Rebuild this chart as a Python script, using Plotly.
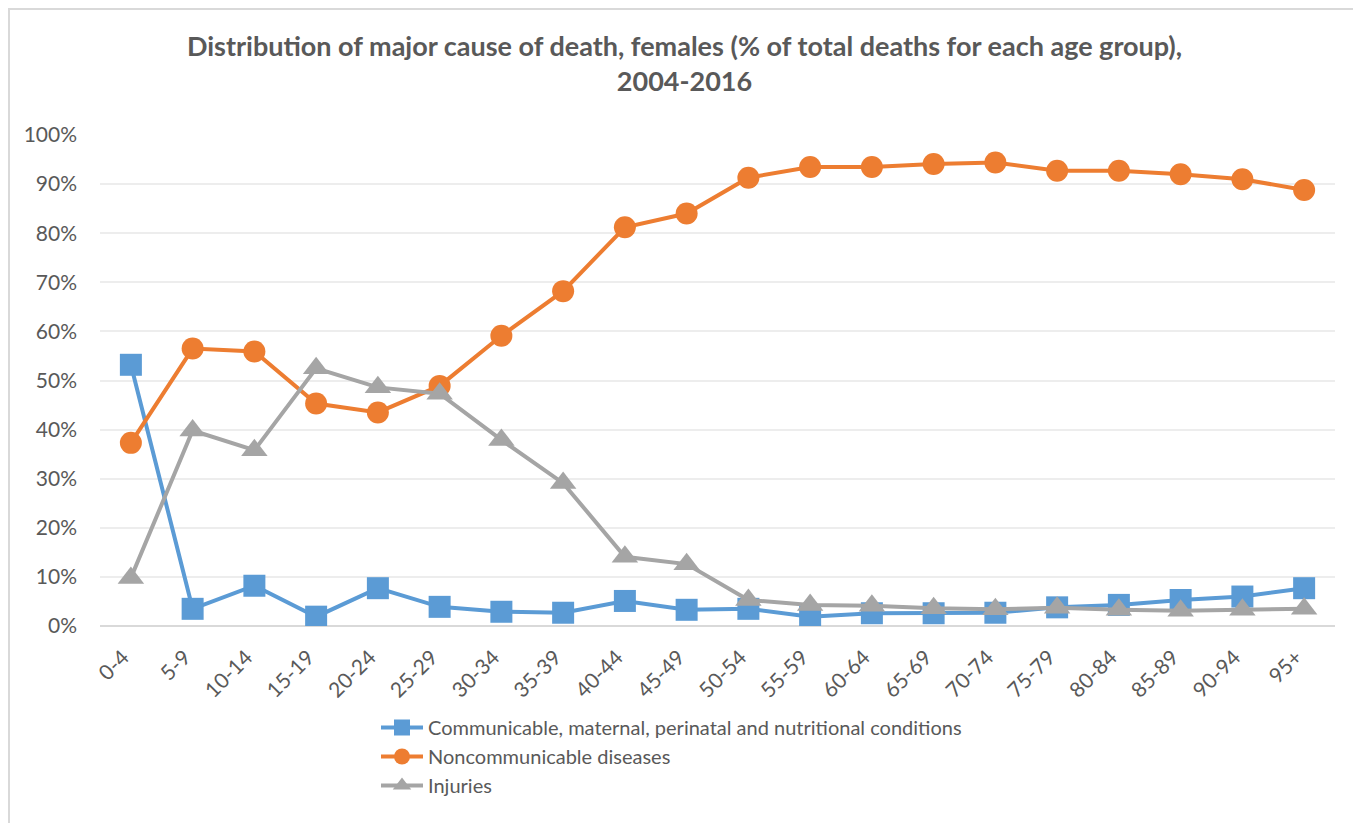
import plotly.graph_objects as go

age_groups = ["0-4", "5-9", "10-14", "15-19", "20-24", "25-29", "30-34", "35-39", "40-44",
              "45-49", "50-54", "55-59", "60-64", "65-69", "70-74", "75-79", "80-84",
              "85-89", "90-94", "95+"]
communicable = [53.2, 3.5, 8.2, 1.9, 7.7, 3.9, 2.9, 2.7, 5.1, 3.3, 3.5, 1.9, 2.6, 2.6, 2.7,
                3.8, 4.3, 5.3, 6.0, 7.7]
noncommunicable = [37.3, 56.5, 55.9, 45.3, 43.5, 48.9, 59.1, 68.2, 81.2, 84.0, 91.3, 93.5,
                   93.5, 94.1, 94.4, 92.7, 92.7, 92.0, 91.0, 88.8]
injuries = [9.8, 39.8, 35.8, 52.5, 48.6, 47.3, 37.9, 29.1, 14.1, 12.6, 5.3, 4.3, 4.1, 3.6,
            3.4, 3.7, 3.3, 3.1, 3.3, 3.5]

series_names = ["Communicable, maternal, perinatal and nutritional conditions",
                "Noncommunicable diseases", "Injuries"]
y_ticks = [0, 10, 20, 30, 40, 50, 60, 70, 80, 90, 100]
y_tick_labels = [f"{v}%" for v in y_ticks]

FONT = "Lato"
TXT = "#595959"

fig = go.Figure()
fig.add_trace(go.Scatter(x=age_groups, y=communicable, name=series_names[0], mode="lines+markers",
                         line=dict(color="#5B9BD5", width=4),
                         marker=dict(symbol="square", size=22, color="#5B9BD5")))
fig.add_trace(go.Scatter(x=age_groups, y=noncommunicable, name=series_names[1], mode="lines+markers",
                         line=dict(color="#ED7D31", width=4),
                         marker=dict(symbol="circle", size=22, color="#ED7D31")))
fig.add_trace(go.Scatter(x=age_groups, y=injuries, name=series_names[2], mode="lines+markers",
                         line=dict(color="#A5A5A5", width=4),
                         marker=dict(symbol="triangle-up", size=23, color="#A5A5A5")))

# page body adds an 8px offset; figure coordinates below are relative to the figure
OFF = 8
W, H = 1361 - OFF, 823 - OFF
L, R, T, B = 100 - OFF, 26, 135 - OFF, 197
pw, ph = W - L - R, H - T - B

def px_x(px):
    return (px - OFF - L) / pw

def px_y(py):
    return (H - B - (py - OFF)) / ph

def cx(px):
    return (px - OFF) / W

def cy(py):
    return 1 - (py - OFF) / H

fig.update_layout(
    width=W, height=H,
    margin=dict(l=L, r=R, t=T, b=B, autoexpand=False),
    paper_bgcolor="white", plot_bgcolor="white",
    font=dict(family=FONT, color=TXT, size=21),
    title=dict(text="<b>Distribution of major cause of death, females (% of total deaths for each age group),<br>2004-2016</b>",
               x=0.5, xanchor="center", y=cy(56), yanchor="middle",
               font=dict(family=FONT, size=27, color=TXT)),
    xaxis=dict(type="category", range=[-0.5, len(age_groups) - 0.5], tickangle=-45,
               showgrid=False, showline=False, ticks="", tickfont=dict(size=21, color=TXT),
               ticklabelstandoff=14, ticklabelshift=-8, zeroline=False),
    yaxis=dict(range=[0, 100], tickvals=y_ticks, ticktext=y_tick_labels,
               showgrid=True, gridcolor="#EDEDED", gridwidth=1.5, zeroline=True,
               zerolinecolor="#D9D9D9", zerolinewidth=2, showline=False, ticks="",
               ticklabelstandoff=22, tickfont=dict(size=21, color=TXT)),
    legend=dict(xref="container", yref="container", x=cx(376), xanchor="left", y=cy(708),
                yanchor="top", orientation="v", font=dict(size=20, color=TXT),
                bgcolor="rgba(0,0,0,0)", itemwidth=42, tracegroupgap=0),
    showlegend=True,
    shapes=[
        dict(type="line", xref="paper", yref="paper", x0=px_x(OFF), x1=px_x(1361), y0=px_y(OFF + 1),
             y1=px_y(OFF + 1), line=dict(color="#D9D9D9", width=2)),
        dict(type="line", xref="paper", yref="paper", x0=px_x(OFF + 1), x1=px_x(OFF + 1), y0=px_y(OFF),
             y1=px_y(823), line=dict(color="#D9D9D9", width=2)),
    ],
)

fig.write_html("out.html")
